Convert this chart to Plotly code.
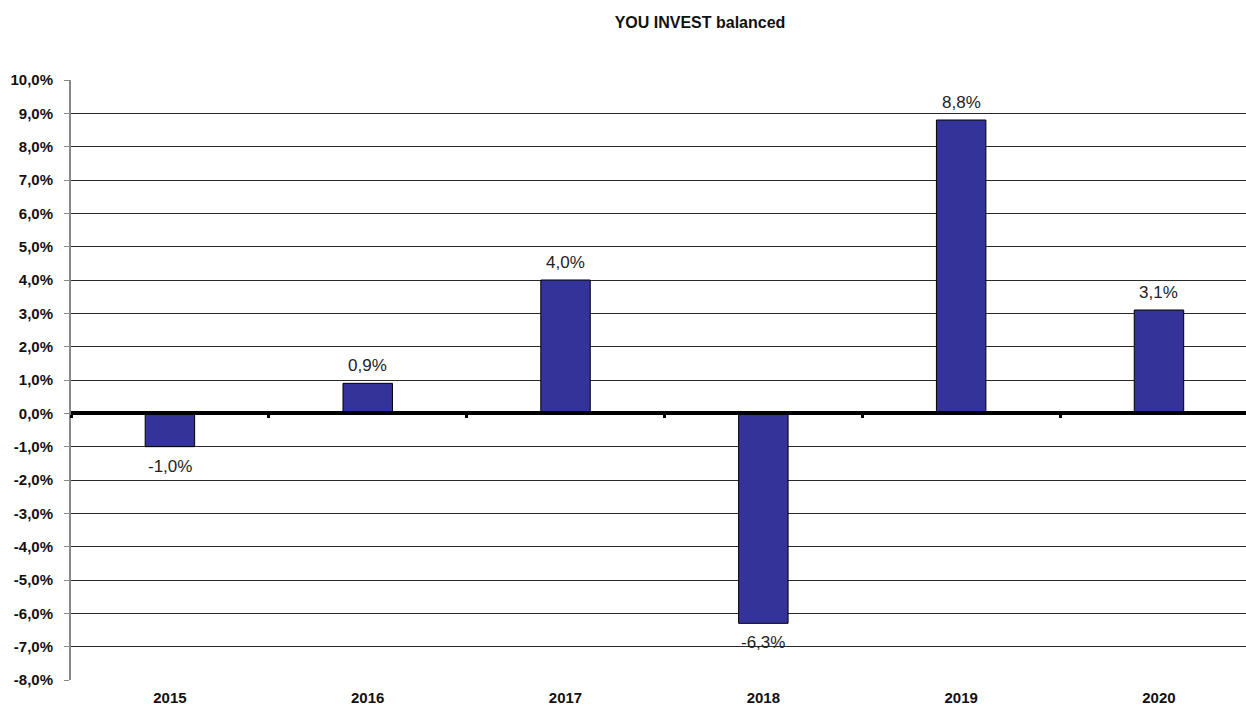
import plotly.graph_objects as go

years = ["2015", "2016", "2017", "2018", "2019", "2020"]
returns = [-1.0, 0.9, 4.0, -6.3, 8.8, 3.1]
y_ticks = [10, 9, 8, 7, 6, 5, 4, 3, 2, 1, 0, -1, -2, -3, -4, -5, -6, -7, -8]
y_tick_labels = [f"{v:.1f}%".replace(".", ",") for v in y_ticks]
boundaries = [-0.5, 0.5, 1.5, 2.5, 3.5, 4.5, 5.5]

FONT = "Liberation Sans, Arial, sans-serif"
x_idx = list(range(len(years)))

fig = go.Figure()
fig.add_trace(go.Bar(
    x=x_idx, y=returns, width=0.25,
    marker=dict(color="#333399", line=dict(color="#000000", width=1)),
    showlegend=False, hoverinfo="skip",
))
# invisible trace on second x axis for zero-line ticks
fig.add_trace(go.Scatter(x=[None], y=[None], xaxis="x2", showlegend=False, hoverinfo="skip"))

annotations = []
for i, v in zip(x_idx, returns):
    annotations.append(dict(
        x=i, y=v, xref="x", yref="y", showarrow=False,
        text=f"{v:.1f}%".replace(".", ","),
        yanchor="bottom" if v >= 0 else "top",
        yshift=6 if v >= 0 else -8,
        font=dict(family=FONT, size=17, color="#222222"),
    ))

xrange = [-0.5, 5.44]
fig.update_layout(
    width=1246, height=706,
    margin=dict(l=71, r=0, t=80, b=26),
    paper_bgcolor="white", plot_bgcolor="white",
    title=dict(text="<b>YOU INVEST balanced</b>", x=700/1246, xanchor="center",
               y=1-22/706, yanchor="middle",
               font=dict(family=FONT, size=16, color="#111111")),
    xaxis=dict(range=xrange, tickvals=x_idx, ticktext=years, showgrid=False,
               zeroline=False, showline=False, ticks="",
               tickfont=dict(family=FONT, size=15, color="#111111", weight="bold"),
               ticklabelstandoff=7),
    xaxis2=dict(range=xrange, overlaying="x", anchor="free", position=267/600,
                tickvals=boundaries, ticks="outside", ticklen=3, tickwidth=3,
                tickcolor="#000000", showticklabels=False, showgrid=False,
                zeroline=False, showline=True, linecolor="#000000", linewidth=4),
    yaxis=dict(range=[-8, 10], tickvals=y_ticks, ticktext=y_tick_labels,
               showgrid=True, gridcolor="#2a2a2a", gridwidth=1,
               zeroline=False, showline=True, linecolor="#888888", linewidth=2,
               ticks="outside", ticklen=5, tickcolor="#888888",
               tickfont=dict(family=FONT, size=15, color="#111111", weight="bold"),
               ticklabelstandoff=8),
    annotations=annotations,
)
fig.write_html("out.html", config={"displayModeBar": False},
               post_script="document.body.style.margin='0';")
